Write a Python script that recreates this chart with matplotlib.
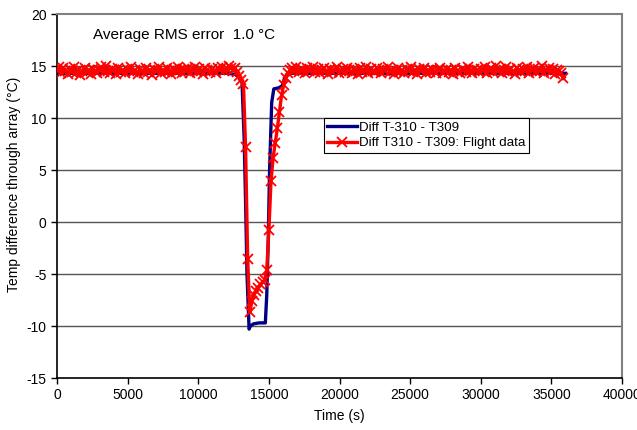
import numpy as np
import matplotlib
matplotlib.use('Agg')
import matplotlib.pyplot as plt

plt.rcParams['font.family'] = ['Liberation Sans', 'DejaVu Sans']
plt.rcParams['axes.unicode_minus'] = False

# model curve: Diff T-310 - T309
model_t = [0, 12000, 12600, 13000, 13100, 13250, 13350, 13450, 13600, 13700,
           13900, 14300, 14750, 14850, 14950, 15050, 15200, 15350, 15700, 15950,
           16100, 16400, 36000]
model_v = [14.3, 14.3, 14.2, 13.8, 13.4, 8.0, 2.0, -5.0, -10.3, -10.0,
           -9.8, -9.7, -9.7, -7.0, -2.0, 5.0, 11.5, 12.8, 12.9, 13.1,
           13.8, 14.3, 14.3]

# flight data, sampled every 150 s
flight_dt = 150
flight_v = [
    14.6, 14.9, 14.3, 14.8, 14.5, 14.2, 14.7, 14.4, 14.9, 14.3, 14.6, 14.1, 14.5, 14.8, 14.4, 14.6, 14.2, 14.7, 14.5, 14.3,
    14.6, 14.9, 14.4, 15.0, 14.5, 14.3, 14.7, 14.6, 14.2, 14.8, 14.4, 14.6, 14.3, 14.7, 14.5, 14.9, 14.4, 14.6, 14.2, 14.7,
    14.5, 14.3, 14.8, 14.4, 14.6, 14.1, 14.7, 14.5, 14.9, 14.3, 14.6, 14.4, 14.8, 14.5, 14.2, 14.7, 14.4, 14.9, 14.6, 14.3,
    14.7, 14.5, 14.8, 14.3, 14.6, 14.9, 14.4, 14.7, 14.5, 14.2, 14.8, 14.6, 14.4, 14.7, 14.5, 14.3, 14.8, 14.6, 14.9, 14.5,
    14.7, 15.0, 14.8, 14.6, 14.8, 14.4, 14.0, 13.7, 13.3, 7.2, -3.6, -8.7, -7.6, -7.0, -6.6, -6.3, -6.0, -5.8, -5.6, -4.6,
    -0.8, 3.9, 6.2, 7.6, 9.0, 10.6, 12.2, 13.2, 13.8, 14.3, 14.6, 14.8, 14.5, 14.9, 14.4, 14.7, 14.6, 14.3, 14.8, 14.5,
    14.6, 14.9, 14.4, 14.7, 14.3, 14.6, 14.8, 14.5, 14.2, 14.7, 14.4, 14.6, 14.9, 14.3, 14.5, 14.7, 14.4, 14.8, 14.6, 14.3,
    14.7, 14.5, 14.2, 14.8, 14.4, 14.6, 14.9, 14.3, 14.7, 14.5, 14.4, 14.8, 14.6, 14.3, 14.7, 14.5, 14.9, 14.4, 14.6, 14.2,
    14.5, 14.8, 14.4, 14.6, 14.3, 14.7, 14.5, 14.9, 14.4, 14.6, 14.2, 14.7, 14.5, 14.8, 14.3, 14.6, 14.4, 14.7, 14.5, 14.3,
    14.6, 14.8, 14.3, 14.5, 14.7, 14.4, 14.6, 14.2, 14.8, 14.5, 14.3, 14.7, 14.6, 14.4, 14.9, 14.5, 14.3, 14.7, 14.6, 14.4,
    14.7, 14.5, 14.9, 14.3, 14.6, 14.8, 14.4, 15.0, 14.5, 14.7, 14.3, 14.6, 14.9, 14.4, 14.7, 14.5, 14.2, 14.8, 14.6, 14.4,
    14.7, 14.5, 14.9, 14.3, 14.6, 14.8, 14.4, 14.7, 14.5, 15.0, 14.3, 14.6, 14.8, 14.4, 14.7, 14.2, 14.6, 14.5, 14.3, 13.8,
]
flight_t = np.arange(len(flight_v)) * flight_dt

fig = plt.figure(figsize=(6.37, 4.30), dpi=100)
ax = fig.add_axes([57 / 637, 1 - 378 / 430, 565 / 637, 364 / 430])

ax.plot(model_t, model_v, color='#000080', lw=2.4, label='Diff T-310 - T309', zorder=3)
ax.plot(flight_t, flight_v, color='#ff0000', lw=2.4, marker='x', ms=7.5, mew=1.3,
        label='Diff T310 - T309: Flight data', zorder=4)

ax.set_xlim(0, 40000)
ax.set_ylim(-15, 20)
ax.set_xticks(np.arange(0, 40001, 5000))
ax.set_yticks(np.arange(-15, 21, 5))
ax.tick_params(direction='out', length=4, width=1, labelsize=10, colors='black')
ax.tick_params(axis='x', pad=3)
for y in range(-10, 20, 5):
    ax.axhline(y, color='#555555', lw=1, zorder=1)

for s in ['top', 'right']:
    ax.spines[s].set_color('#808080')
    ax.spines[s].set_linewidth(1.5)
for s in ['left', 'bottom']:
    ax.spines[s].set_color('black')
    ax.spines[s].set_linewidth(1.2)

ax.set_xlabel('Time (s)', fontsize=10, labelpad=5)
ax.set_ylabel('Temp difference through array (°C)', fontsize=10)
ax.yaxis.set_label_coords(-0.063, 0.533)

ax.text(0.063, 0.943, 'Average RMS error  1.0 °C', transform=ax.transAxes,
        fontsize=11, ha='left', va='center')

leg = ax.legend(loc='upper left', bbox_to_anchor=(0.4726, 0.714), fontsize=9.6,
                frameon=True, fancybox=False, handlelength=2.2, borderpad=0.25,
                labelspacing=0.25, handletextpad=0.2, borderaxespad=0)
leg.get_frame().set_edgecolor('black')
leg.get_frame().set_linewidth(0.8)
leg.get_frame().set_alpha(1)

fig.savefig('out.png', dpi=100)
